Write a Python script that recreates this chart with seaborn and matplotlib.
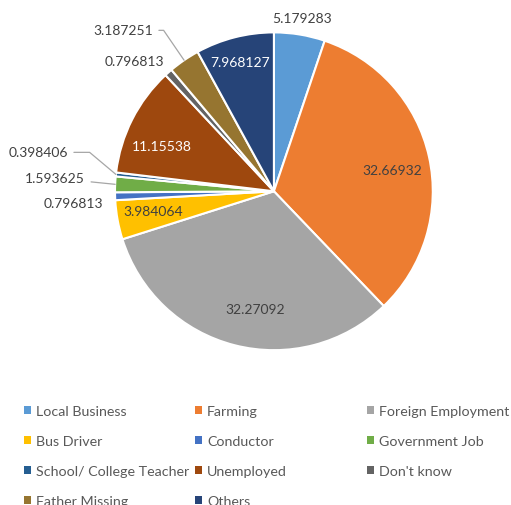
import numpy as np
import matplotlib
matplotlib.use("Agg")
import matplotlib.pyplot as plt
from matplotlib.patches import Patch
import seaborn as sns

# data
categories = ["Local Business", "Farming", "Foreign Employment", "Bus Driver",
              "Conductor", "Government Job", "School/ College Teacher",
              "Unemployed", "Don't know", "Father Missing", "Others"]
values = [5.179283, 32.66932, 32.27092, 3.984064, 0.796813, 1.593625,
          0.398406, 11.15538, 0.796813, 3.187251, 7.968127]
label_texts = ["5.179283", "32.66932", "32.27092", "3.984064", "0.796813",
               "1.593625", "0.398406", "11.15538", "0.796813", "3.187251",
               "7.968127"]

colors = ["#5B9BD5", "#ED7D31", "#A5A5A5", "#FFC000", "#4472C4", "#70AD47",
          "#255E91", "#9E480E", "#636363", "#967530", "#264478"]

# label layout (data units, pie radius = 1)
label_pos = [(0.176, 1.088), (0.748, 0.132), (-0.119, -0.742), (-0.761, -0.126),
             (-1.261, -0.075), (-1.377, 0.082), (-1.484, 0.245), (-0.704, 0.283),
             (-0.881, 0.818), (-0.950, 1.013), (-0.214, 0.811)]
label_colors = ["#404040"] * 7 + ["white", "#404040", "#404040", "white"]
# leader lines: index -> connection style
leaders = {5: "arc3,rad=0", 6: "angle,angleA=0,angleB=140,rad=0",
           9: "angle,angleA=0,angleB=124.4,rad=0"}

sns.set_theme(style="white")
plt.rcParams['font.family'] = ['Lato', 'DejaVu Sans']

fig = plt.figure(figsize=(5.11, 5.06), dpi=100)
ax = fig.add_axes([0.225, 0.306, 0.622, 0.628])
wedges, _ = ax.pie(values, colors=colors, startangle=90, counterclock=False,
                   radius=1, wedgeprops=dict(edgecolor="white", linewidth=1.5))
ax.set_xlim(-1, 1)
ax.set_ylim(-1, 1)
ax.axis("off")

for i, w in enumerate(wedges):
    mid = np.deg2rad((w.theta1 + w.theta2) / 2)
    if i in leaders:
        ax.annotate(label_texts[i], xy=(np.cos(mid), np.sin(mid)),
                    xytext=label_pos[i], ha="center", va="center",
                    fontsize=10, color=label_colors[i], annotation_clip=False,
                    arrowprops=dict(arrowstyle="-", color="#A6A6A6", lw=0.9,
                                    shrinkA=2, shrinkB=0,
                                    connectionstyle=leaders[i]))
    else:
        ax.text(label_pos[i][0], label_pos[i][1], label_texts[i],
                ha="center", va="center", fontsize=10, color=label_colors[i],
                clip_on=False)

handles = [Patch(facecolor=c, edgecolor="none") for c in colors]
columns = [[0, 3, 6, 9], [1, 4, 7, 10], [2, 5, 8]]
col_x = [24, 195, 367]
for cols, x in zip(columns, col_x):
    fig.legend([handles[k] for k in cols], [categories[k] for k in cols],
               loc="upper left", bbox_to_anchor=(x / 511, 1 - 406 / 506),
               frameon=False, fontsize=10.3, labelcolor="#595959",
               handlelength=0.5, handleheight=0.5, handletextpad=0.35,
               borderpad=0, borderaxespad=0, labelspacing=1.26)

fig.savefig("out.png", dpi=100)
